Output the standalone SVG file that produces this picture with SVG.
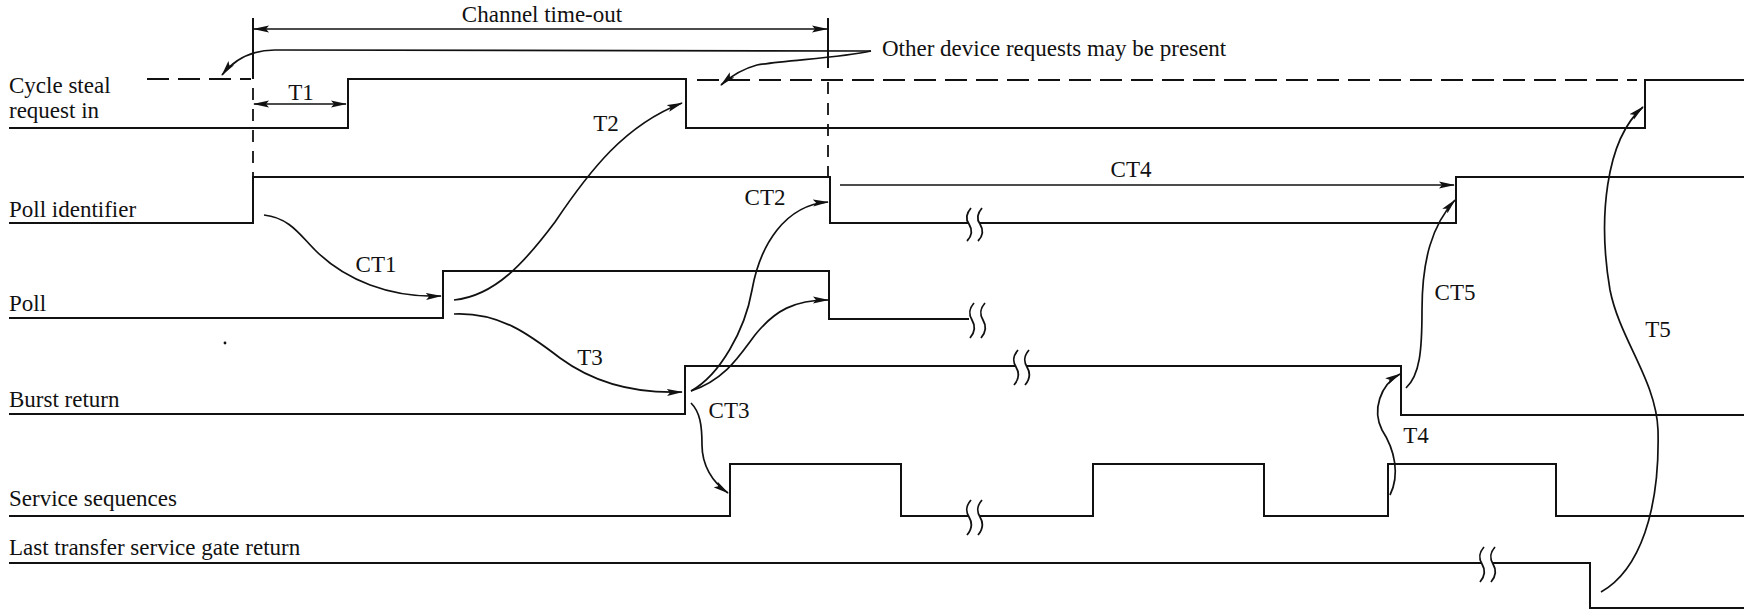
<svg xmlns="http://www.w3.org/2000/svg" width="1744" height="616" viewBox="0 0 1744 616">
<style>
.sig{fill:none;stroke:#111;stroke-width:2;stroke-linejoin:miter}
.dash{fill:none;stroke:#111;stroke-width:2;stroke-dasharray:22 9}
.vdash{fill:none;stroke:#111;stroke-width:1.8;stroke-dasharray:12 9}
.con{fill:none;stroke:#111;stroke-width:1.7}
.arr{marker-end:url(#ah)}
.dbl{marker-start:url(#ah);marker-end:url(#ah)}
.sq{fill:none;stroke:#111;stroke-width:1.8}
text{font-family:"Liberation Serif","Times New Roman",serif;font-size:23px;fill:#111}
.m{text-anchor:middle}
</style>
<defs>
<marker id="ah" viewBox="0 0 16 8" refX="15" refY="4" markerWidth="16" markerHeight="8" markerUnits="userSpaceOnUse" orient="auto-start-reverse">
<path d="M0,0.5 L16,4 L0,7.5 L3,4 z" fill="#111"/>
</marker>
</defs>
<rect width="1744" height="616" fill="#fff"/>

<g id="cycle-steal">
<text x="9" y="93">Cycle steal</text>
<text x="9" y="118">request in</text>
<path class="dash" d="M147 79 L251 79"/>
<path class="sig" d="M9 128 L348 128 L348 79 L686 79 L686 128 L1645 128 L1645 80 L1744 80"/>
<path class="dash" d="M697 80 L1637 80"/>
</g>

<g id="poll-identifier">
<text x="9" y="217">Poll identifier</text>
<path class="sig" d="M9 223 L253 223 L253 177 L830 177 L830 223 L968 223"/>
<path class="sig" d="M980 223 L1456 223 L1456 177 L1744 177"/>
<path class="sq" d="M971 208 C965 215 966 220 969 224 C972 229 973 235 967 241 M982 208 C976 215 977 220 980 224 C983 229 984 235 978 241"/>
</g>

<g id="poll">
<text x="9" y="311">Poll</text>
<path class="sig" d="M9 318 L443 318 L443 271 L829 271 L829 319 L969 319"/>
<path class="sq" d="M974 303 C968 310 969 315 972 320 C975 325 976 331 970 338 M985 303 C979 310 980 315 983 320 C986 325 987 331 981 338"/>
<circle cx="225" cy="343" r="1.4" fill="#111"/>
</g>

<g id="burst-return">
<text x="9" y="407">Burst return</text>
<path class="sig" d="M9 414 L685 414 L685 366 L1015 366"/>
<path class="sig" d="M1027 366 L1401 366 L1401 415 L1744 415"/>
<path class="sq" d="M1018 350 C1012 357 1013 362 1016 367 C1019 372 1020 378 1014 385 M1029 350 C1023 357 1024 362 1027 367 C1030 372 1031 378 1025 385"/>
</g>

<g id="service-sequences">
<text x="9" y="506">Service sequences</text>
<path class="sig" d="M9 516 L730 516 L730 464 L901 464 L901 516 L968 516"/>
<path class="sig" d="M980 516 L1093 516 L1093 464 L1264 464 L1264 516 L1388 516 L1388 464 L1556 464 L1556 516 L1744 516"/>
<path class="sq" d="M971 500 C965 507 966 512 969 517 C972 522 973 528 967 535 M982 500 C976 507 977 512 980 517 C983 522 984 528 978 535"/>
</g>

<g id="last-transfer">
<text x="9" y="555">Last transfer service gate return</text>
<path class="sig" d="M9 563 L1481 563"/>
<path class="sig" d="M1493 563 L1590 563 L1590 608 L1744 608"/>
<path class="sq" d="M1484 547 C1478 554 1479 559 1482 564 C1485 569 1486 575 1480 582 M1495 547 C1489 554 1490 559 1493 564 C1496 569 1497 575 1491 582"/>
</g>

<g id="timeout">
<path class="sig" d="M253 18 L253 79"/>
<path class="vdash" d="M253 88 L253 177"/>
<path class="sig" d="M828 18 L828 68"/>
<path class="vdash" d="M828 82 L828 177"/>
<path class="con dbl" d="M254 29 L827 29"/>
<text class="m" x="542" y="22">Channel time-out</text>
<text x="882" y="56">Other device requests may be present</text>
</g>

<g id="connectors">
<path class="con arr" d="M871 51 L275 50 C255 50 236 57 222 75"/>
<path class="con arr" d="M871 51 C840 58 785 60 757 65 C742 69 731 76 721 85"/>
<path class="con dbl" d="M254 104 L346 104"/>
<path class="con arr" d="M264 215 C290 218 300 235 315 250 C345 280 390 298 441 296"/>
<path class="con arr" d="M454 300 C495 296 525 262 555 222 C590 170 625 125 682 103"/>
<path class="con arr" d="M454 314 C500 312 530 335 560 358 C590 380 630 394 682 392"/>
<path class="con arr" d="M691 391 C720 375 745 330 752 290 C760 245 785 205 828 202"/>
<path class="con arr" d="M691 391 C725 380 740 355 755 335 C775 310 795 300 828 300"/>
<path class="con arr" d="M691 403 C700 412 702 425 702 445 C702 465 712 482 728 493"/>
<path class="con arr" d="M840 185 L1454 185"/>
<path class="con arr" d="M1406 388 C1420 375 1422 350 1422 310 C1422 260 1432 225 1455 200"/>
<path class="con arr" d="M1390 495 C1400 475 1395 450 1382 430 C1372 410 1380 385 1400 374"/>
<path class="con arr" d="M1601 592 C1640 570 1660 510 1658 430 C1656 380 1620 340 1610 290 C1598 220 1605 140 1643 107"/>
<text class="m" x="301" y="100">T1</text>
<text class="m" x="606" y="131">T2</text>
<text class="m" x="590" y="365">T3</text>
<text class="m" x="1416" y="443">T4</text>
<text class="m" x="1658" y="337">T5</text>
<text class="m" x="376" y="272">CT1</text>
<text class="m" x="765" y="205">CT2</text>
<text class="m" x="729" y="418">CT3</text>
<text class="m" x="1131" y="177">CT4</text>
<text class="m" x="1455" y="300">CT5</text>
</g>
</svg>
